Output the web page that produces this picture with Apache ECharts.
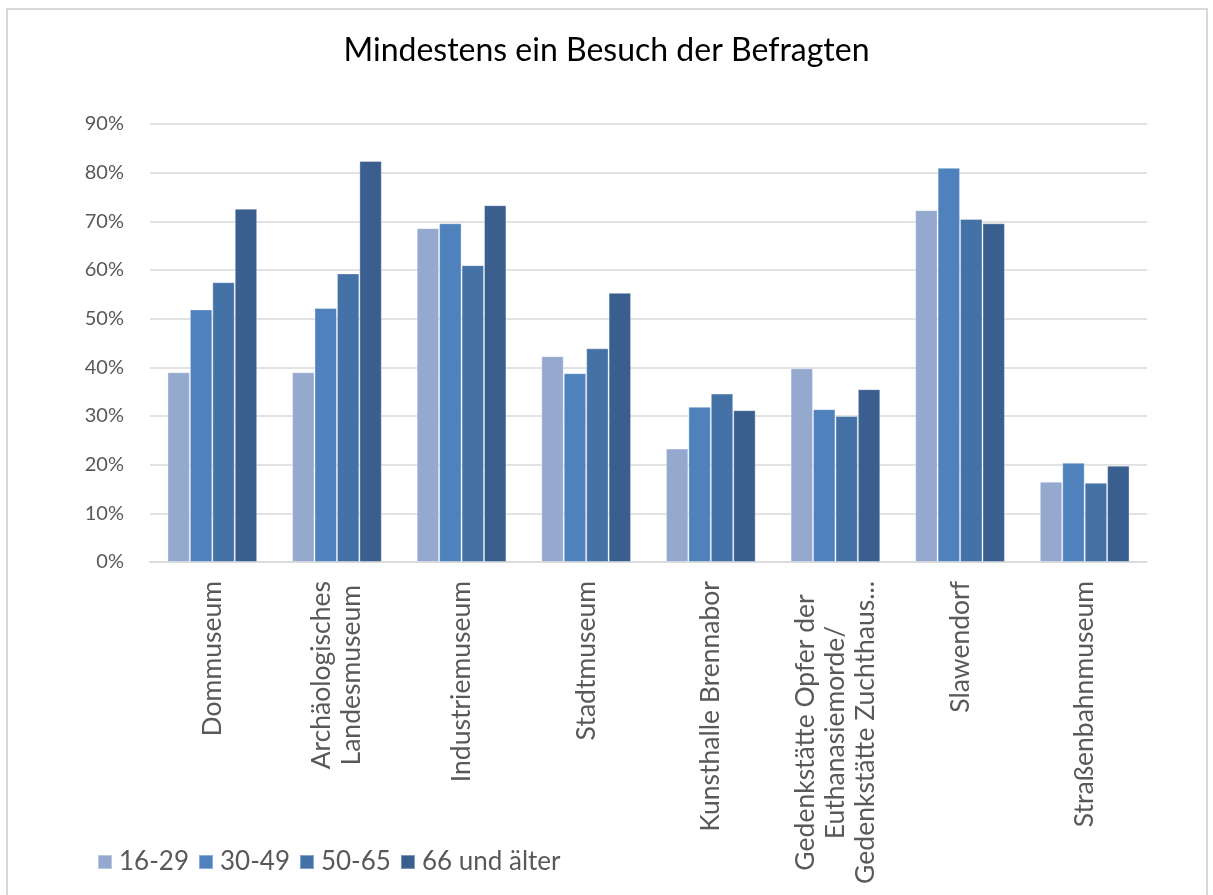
<!DOCTYPE html>
<html>
<head>
<meta charset="utf-8">
<script src="https://cdn.jsdelivr.net/npm/echarts@6/dist/echarts.min.js"></script>
<style>
    html, body { margin: 0; padding: 0; background: #fff; }
    #main { position: absolute; left: 0; top: 0; width: 1213px; height: 895px; }
    #frame { position: absolute; left: 6px; top: 8px; width: 1198px; height: 900px;
             border: 2px solid #d9d9d9; pointer-events: none; }
</style>
</head>
<body>
<div id="main"></div>
<div id="frame"></div>
<script>
var categories = [
    'Dommuseum',
    'Archäologisches\nLandesmuseum',
    'Industriemuseum',
    'Stadtmuseum',
    'Kunsthalle Brennabor',
    'Gedenkstätte Opfer der\nEuthanasiemorde/\nGedenkstätte Zuchthaus...',
    'Slawendorf',
    'Straßenbahnmuseum'
];
var seriesNames = ['16-29', '30-49', '50-65', '66 und älter'];
var data1629 = [39.0, 39.0, 68.6, 42.3, 23.3, 39.8, 72.3, 16.5];
var data3049 = [51.9, 52.2, 69.6, 38.8, 31.9, 31.4, 81.0, 20.4];
var data5065 = [57.5, 59.3, 61.0, 43.9, 34.6, 30.0, 70.5, 16.3];
var data66 = [72.6, 82.4, 73.3, 55.3, 31.2, 35.5, 69.6, 19.8];
var colors = ['#95a9cf', '#4f81bd', '#4472a7', '#3a5f8e'];

var myChart = echarts.init(document.getElementById('main'));
var fontName = 'Lato, "Open Sans", sans-serif';

function makeSeries(name, data, color) {
    return {
        name: name,
        type: 'bar',
        data: data,
        barGap: '0%',
        barCategoryGap: '28%',
        itemStyle: {
            color: color,
            borderColor: 'rgba(255,255,255,0.35)',
            borderWidth: 1
        },
        animation: false
    };
}

var option = {
    title: {
        text: 'Mindestens ein Besuch der Befragten',
        left: 'center',
        top: 30,
        textStyle: {
            fontFamily: fontName,
            fontSize: 32,
            fontWeight: 'normal',
            color: '#000'
        }
    },
    legend: {
        data: seriesNames,
        left: 92,
        top: 844,
        icon: 'rect',
        itemWidth: 14,
        itemHeight: 14,
        itemGap: 9,
        textStyle: {
            fontFamily: fontName,
            fontSize: 26,
            color: '#595959',
            padding: [0, 0, 0, 2]
        }
    },
    grid: {
        left: 150,
        right: 66,
        top: 124,
        bottom: 333,
        containLabel: false
    },
    xAxis: {
        type: 'category',
        data: categories,
        axisTick: { show: false },
        axisLine: { lineStyle: { color: '#d9d9d9', width: 1.5 } },
        axisLabel: {
            rotate: 90,
            margin: 19,
            interval: 0,
            formatter: function (value) {
                return value.split('\n').map(function (l) {
                    return '{c|' + l + '}';
                }).join('\n');
            },
            rich: {
                c: {
                    align: 'center',
                    fontFamily: fontName,
                    fontSize: 26.5,
                    lineHeight: 30,
                    color: '#595959'
                }
            }
        }
    },
    yAxis: {
        type: 'value',
        min: 0,
        max: 90,
        interval: 10,
        axisLine: { show: false },
        axisTick: { show: false },
        splitLine: { lineStyle: { color: '#d9d9d9', width: 1.5 } },
        axisLabel: {
            margin: 26,
            formatter: '{value}%',
            fontFamily: fontName,
            fontSize: 20,
            color: '#595959'
        }
    },
    series: [
        makeSeries(seriesNames[0], data1629, colors[0]),
        makeSeries(seriesNames[1], data3049, colors[1]),
        makeSeries(seriesNames[2], data5065, colors[2]),
        makeSeries(seriesNames[3], data66, colors[3])
    ]
};

if (option && typeof option === "object") {
    myChart.setOption(option, true);
}
</script>
</body>
</html>
